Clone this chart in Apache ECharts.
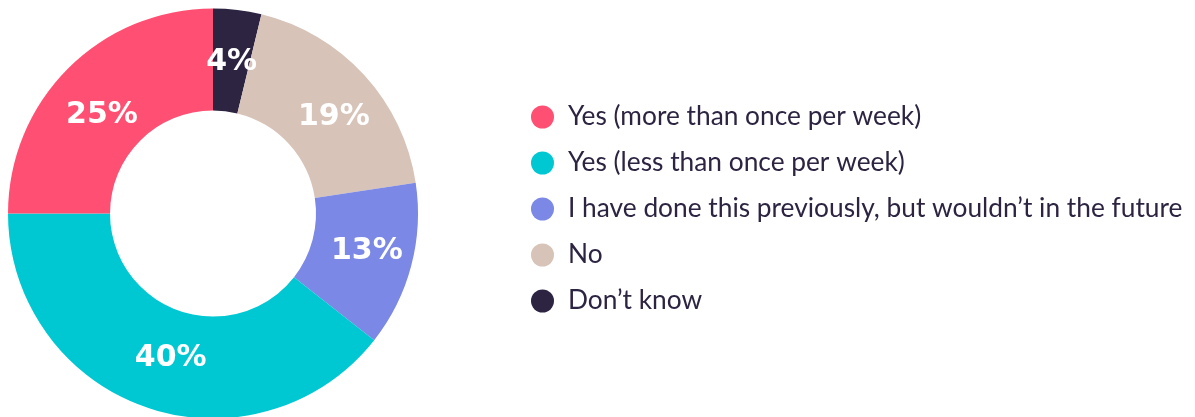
<!DOCTYPE html>
<html>
<head>
<meta charset="utf-8">
<script src="https://cdn.jsdelivr.net/npm/echarts@6/dist/echarts.min.js"></script>
<style>
html,body{margin:0;padding:0;background:#fff;}
#chart{width:1195px;height:417px;}
</style>
</head>
<body>
<div id="chart"></div>
<script>
// Slices in drawing order (clockwise from 12 o'clock)
const categories = ['Don’t know', 'No', 'I have done this previously, but wouldn’t in the future', 'Yes (less than once per week)', 'Yes (more than once per week)'];
const values = [3.8, 18.8, 13.0, 39.4, 25.0];
const labels = ['4%', '19%', '13%', '40%', '25%'];
const colors = ['#2D2442', '#D7C3B8', '#7B88E6', '#00C8D2', '#FF5073'];
// Legend order as shown
const legendOrder = ['Yes (more than once per week)', 'Yes (less than once per week)', 'I have done this previously, but wouldn’t in the future', 'No', 'Don’t know'];
// label nudges (styling only)
const labelNudge = [[0, 5], [5, 10], [2, -2], [9, -4], [0, 13]];

const chart = echarts.init(document.getElementById('chart'));
chart.setOption({
  animation: false,
  legend: {
    orient: 'vertical',
    left: 526,
    top: 99,
    data: legendOrder,
    icon: 'circle',
    itemWidth: 23,
    itemHeight: 23,
    itemGap: 20,
    selectedMode: false,
    textStyle: {
      fontFamily: 'Lato',
      fontSize: 26.3,
      color: '#2D2442',
      lineHeight: 23,
      padding: [0, 0, 0, 9]
    }
  },
  series: [{
    type: 'pie',
    center: [213, 213.5],
    radius: [103, 205],
    startAngle: 90,
    clockwise: true,
    avoidLabelOverlap: false,
    itemStyle: { borderWidth: 0 },
    label: {
      show: true,
      position: 'inside',
      color: '#fff',
      fontFamily: 'DejaVu Sans',
      fontWeight: 'bold',
      fontSize: 30
    },
    labelLine: { show: false },
    emphasis: { disabled: true },
    data: categories.map((c, i) => ({
      name: c,
      value: values[i],
      itemStyle: { color: colors[i] },
      label: { formatter: labels[i], offset: labelNudge[i] }
    }))
  }]
});
</script>
</body>
</html>
